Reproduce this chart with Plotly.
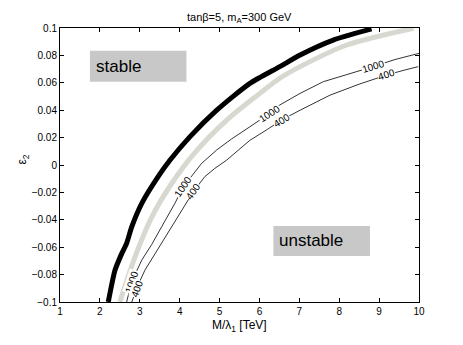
import plotly.graph_objects as go

# ---- data ----
black_x = [2.21, 2.38, 2.55, 2.67, 2.8, 3.05, 3.46, 3.76, 4.26, 4.93, 5.76, 6.51, 7.02, 7.85, 8.81]
black_y = [-0.1, -0.0767, -0.0645, -0.0572, -0.045, -0.028, -0.0085, 0.0036, 0.0207, 0.040, 0.0596, 0.0718, 0.0803, 0.0912, 0.0993]

gray_x = [2.5, 2.88, 3.3, 3.8, 4.35, 5.18, 6.01, 6.51, 7.02, 8.19, 9.86]
gray_y = [-0.1, -0.067, -0.038, -0.0135, 0.008, 0.0328, 0.0523, 0.0633, 0.0718, 0.0876, 0.0998]

c1000_x = [2.67, 2.8, 3.05, 3.3, 3.55, 3.88, 4.09, 4.55, 4.93, 5.3, 5.76, 6.26, 6.51, 7.02, 7.6, 8.2, 8.85, 9.4, 9.86, 10.0]
c1000_y = [-0.1, -0.085, -0.0694, -0.058, -0.045, -0.028, -0.016, 0.0012, 0.011, 0.019, 0.0279, 0.0377, 0.0438, 0.0523, 0.0608, 0.066, 0.0718, 0.077, 0.0808, 0.0815]

c400_x = [2.8, 2.92, 3.13, 3.4, 3.63, 4.05, 4.34, 4.63, 4.88, 5.18, 5.76, 6.2, 6.55, 7.02, 7.77, 8.5, 9.19, 9.6, 9.98]
c400_y = [-0.1, -0.09, -0.0767, -0.064, -0.0525, -0.033, -0.0196, -0.0085, -0.0025, 0.0036, 0.018, 0.026, 0.0328, 0.040, 0.051, 0.059, 0.0657, 0.069, 0.0718]

# contour label positions
label_text = ["1000", "400", "1000", "400", "1000", "400", "1000", "400"]
label_x = [2.8, 2.93, 4.09, 4.34, 6.26, 6.55, 8.85, 9.19]
label_y = [-0.085, -0.09, -0.016, -0.0196, 0.0377, 0.0328, 0.0718, 0.0657]
label_angle = [-72, -70, -56, -55, -33, -31, -17, -18]

x_ticks = [1, 2, 3, 4, 5, 6, 7, 8, 9, 10]
y_ticks = [-0.1, -0.08, -0.06, -0.04, -0.02, 0, 0.02, 0.04, 0.06, 0.08, 0.1]
y_ticktext = ["\u22120.1", "\u22120.08", "\u22120.06", "\u22120.04", "\u22120.02", "0",
              "0.02", "0.04", "0.06", "0.08", "0.1"]

stable_box = [1.75, 4.17, 0.0608, 0.0834]
unstable_box = [6.35, 8.77, -0.0664, -0.0445]

FONT = "Liberation Sans, Arial, Helvetica, sans-serif"

fig = go.Figure()
fig.add_trace(go.Scatter(x=c1000_x, y=c1000_y, mode="lines",
                         line=dict(color="black", width=0.8), hoverinfo="skip"))
fig.add_trace(go.Scatter(x=c400_x, y=c400_y, mode="lines",
                         line=dict(color="black", width=0.8), hoverinfo="skip"))
fig.add_trace(go.Scatter(x=gray_x, y=gray_y, mode="lines", line_shape="spline",
                         line=dict(color="#d7d8d0", width=5, smoothing=0.8), hoverinfo="skip"))
fig.add_trace(go.Scatter(x=black_x, y=black_y, mode="lines", line_shape="spline",
                         line=dict(color="black", width=5, smoothing=0.6), hoverinfo="skip"))

for t, lx, ly, a in zip(label_text, label_x, label_y, label_angle):
    fig.add_annotation(x=lx, y=ly, text=t, showarrow=False, textangle=a,
                       font=dict(family=FONT, size=10, color="black"),
                       bgcolor="white", borderpad=0)

fig.add_shape(type="rect", x0=stable_box[0], x1=stable_box[1], y0=stable_box[2], y1=stable_box[3],
              fillcolor="#c8c8c8", line=dict(width=0), layer="above")
fig.add_shape(type="rect", x0=unstable_box[0], x1=unstable_box[1], y0=unstable_box[2], y1=unstable_box[3],
              fillcolor="#c8c8c8", line=dict(width=0), layer="above")
fig.add_annotation(x=stable_box[0] + 0.1, y=(stable_box[2] + stable_box[3]) / 2, text="stable",
                   xanchor="left", showarrow=False, font=dict(family=FONT, size=17, color="black"))
fig.add_annotation(x=unstable_box[0] + 0.1, y=(unstable_box[2] + unstable_box[3]) / 2, text="unstable",
                   xanchor="left", showarrow=False, font=dict(family=FONT, size=17, color="black"))

fig.add_annotation(xref="paper", yref="paper", x=0.5, y=1.068, text="tan\u03b2=5, m<sub>A</sub>=300 GeV",
                   showarrow=False, font=dict(family=FONT, size=11, color="black"))
fig.add_annotation(xref="paper", yref="paper", x=0.5, y=-0.088, text="M/\u03bb<sub>1</sub> [TeV]",
                   showarrow=False, yanchor="middle", font=dict(family=FONT, size=12, color="black"))
fig.add_annotation(xref="paper", yref="paper", x=-0.131, y=0.52, text="\u03b5<sub>2</sub>",
                   showarrow=False, textangle=-90, font=dict(family=FONT, size=12, color="black"))

axis_common = dict(showgrid=False, zeroline=False, showline=True, linecolor="black", linewidth=1,
                   mirror="ticks", ticks="inside", ticklen=4, tickcolor="black",
                   tickfont=dict(family=FONT, size=10, color="black"))
fig.update_xaxes(range=[1, 10], tickvals=x_ticks, ticklabelstandoff=0, **axis_common)
fig.update_yaxes(range=[-0.1, 0.1], tickvals=y_ticks, ticktext=y_ticktext, ticklabelstandoff=0, **axis_common)

# page body has an 8px default margin, so the figure is offset by 8px
fig.update_layout(width=455, height=337, margin=dict(l=52, r=44, t=20, b=43),
                  paper_bgcolor="white", plot_bgcolor="white", showlegend=False)

fig.write_html("out.html")
